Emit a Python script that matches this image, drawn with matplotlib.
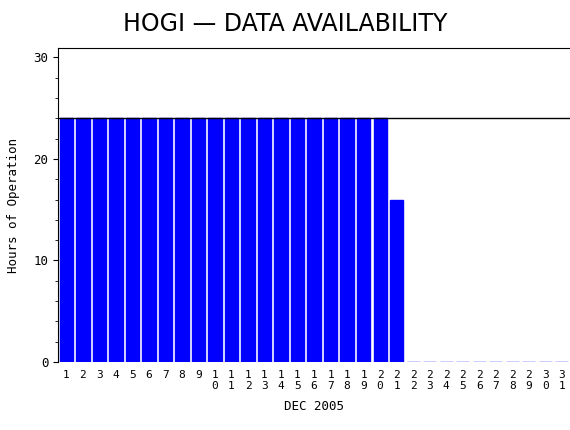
import matplotlib
matplotlib.use("Agg")
import matplotlib.pyplot as plt
from matplotlib.ticker import MultipleLocator

# hours of operation per day, Dec 2005
days = list(range(1, 32))
hours = [24] * 20 + [16] + [0] * 10
target = 24

fig = plt.figure(figsize=(5.7, 4.3), dpi=100)
ax = fig.add_axes([0.102, 0.158, 0.898, 0.730])

ax.bar(days, hours, width=0.8, color="#0000ff", edgecolor="#0000ff")
ax.axhline(target, color="black", linewidth=1)

ax.set_xlim(0.5, 31.5)
ax.set_ylim(0, 30.9)
ax.yaxis.set_major_locator(MultipleLocator(10))
ax.yaxis.set_minor_locator(MultipleLocator(2))
ax.set_xticks(days)
ax.set_xticklabels(["\n".join(str(d)) for d in days], fontsize=8,
                   family="DejaVu Sans Mono", linespacing=1.1)
ax.tick_params(axis="x", length=0, pad=6)
ax.tick_params(axis="y", labelsize=9, direction="out")
for lab in ax.get_yticklabels():
    lab.set_family("DejaVu Sans Mono")
ax.spines["bottom"].set_visible(False)
ax.spines["right"].set_visible(False)

ax.set_xlabel("DEC 2005", family="DejaVu Sans Mono", fontsize=9, labelpad=6)
ax.set_ylabel("Hours of Operation", family="DejaVu Sans Mono", fontsize=9, labelpad=10)
fig.text(0.5, 0.945, "HOGI \u2014 DATA AVAILABILITY", ha="center", va="center", fontsize=17)

fig.savefig("out.png", dpi=100)
